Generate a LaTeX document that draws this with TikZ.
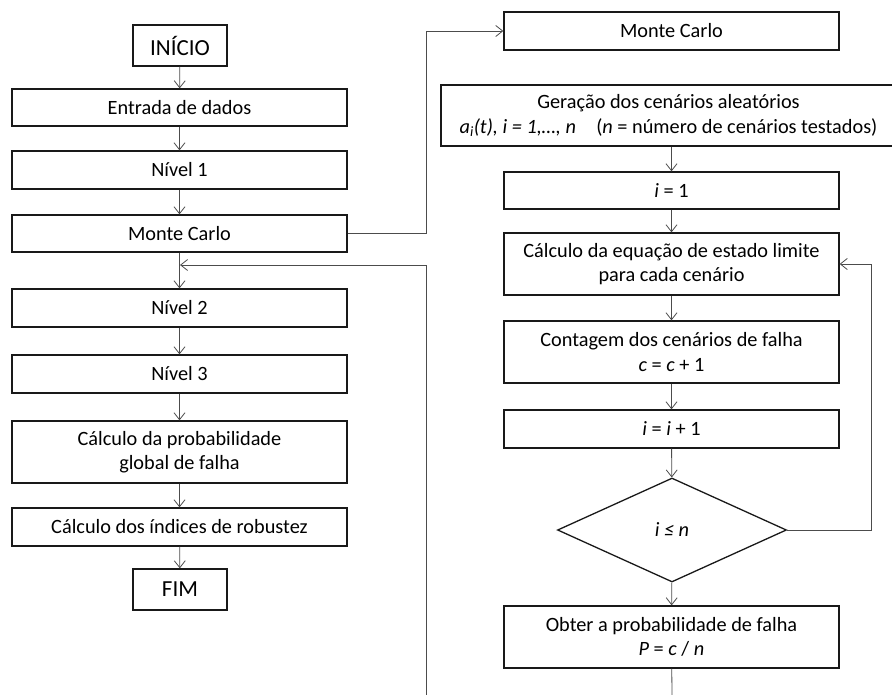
\documentclass[tikz,border=0pt]{standalone}
\usepackage{fontspec}
\setmainfont{Carlito}
\usetikzlibrary{arrows.meta,shapes.geometric}
\begin{document}
\begin{tikzpicture}[x=1pt,y=-1pt,
  box/.style={draw=black!90,line width=1.3pt,rectangle,inner sep=0pt,align=center,
    font=\fontsize{20.3}{24.5}\selectfont,minimum width=335pt},
  bigbox/.style={box,font=\fontsize{23}{27}\selectfont,minimum width=94pt,minimum height=41pt},
  dec/.style={draw=black!90,line width=1.3pt,diamond,inner sep=0pt,
    minimum width=229pt,minimum height=104pt,font=\fontsize{20.3}{24}\selectfont},
  conn/.style={draw=black!70,line width=0.8pt},
  arr/.style={conn,-{Straight Barb[length=7pt,width=11pt]}}]
\useasboundingbox (0,0) rectangle (892,695);
% left column
\node[bigbox] (ini) at (180,45.5) {INÍCIO};
\node[box,minimum height=37pt] (ent) at (179.5,107.5) {Entrada de dados};
\node[box,minimum height=38pt] (n1) at (179.5,170) {Nível 1};
\node[box,minimum height=37pt] (mc) at (179.5,233.5) {Monte Carlo};
\node[box,minimum height=38pt] (n2) at (179.5,308) {Nível 2};
\node[box,minimum height=38pt] (n3) at (179.5,374) {Nível 3};
\node[box,minimum height=62pt] (pg) at (179.5,452) {Cálculo da probabilidade\\global de falha};
\node[box,minimum height=38pt] (ir) at (179.5,527) {Cálculo dos índices de robustez};
\node[bigbox] (fim) at (180,589.5) {FIM};
% right column
\node[box,minimum height=38pt] (mc2) at (671.5,31) {Monte Carlo};
\node[box,minimum width=455pt,minimum height=61pt] (ger) at (668.5,115.5)
  {Geração dos cenários aleatórios\\{\itshape a\textsubscript{i}(t), i = 1,…, n}\quad ({\itshape n} = número de cenários testados)};
\node[box,minimum height=37pt] (i1) at (671.5,190.5) {{\itshape i} = 1};
\node[box,minimum height=62pt] (eq) at (671.5,264) {Cálculo da equação de estado limite\\para cada cenário};
\node[box,minimum height=62pt] (cont) at (671.5,352) {Contagem dos cenários de falha\\{\itshape c} = {\itshape c} + 1};
\node[box,minimum height=38pt] (inc) at (671.5,429) {{\itshape i} = {\itshape i} + 1};
\node[dec] (dia) at (672,530) {\itshape i ≤ n};
\node[box,minimum height=62pt] (obt) at (671.5,637) {Obter a probabilidade de falha\\{\itshape P} = {\itshape c} / {\itshape n}};
% coordinates
\coordinate (j) at (180,265);
\coordinate (bl) at (426,695);
\coordinate (br) at (672,695);
% left connectors
\draw[arr] (ini) -- (ent);
\draw[arr] (ent) -- (n1);
\draw[arr] (n1) -- (mc);
\draw[arr] (mc) -- (n2);
\draw[arr] (n2) -- (n3);
\draw[arr] (n3) -- (pg);
\draw[arr] (pg) -- (ir);
\draw[arr] (ir) -- (fim);
\draw[arr] (mc.east) -- (426,233.5) |- (mc2.west);
\draw[arr] (bl) |- (j);
% right connectors
\draw[arr] (ger.south -| i1.north) -- (i1);
\draw[arr] (i1) -- (eq);
\draw[arr] (eq) -- (cont);
\draw[arr] (cont) -- (inc);
\draw[arr] (inc) -- (dia);
\draw[arr] (dia) -- (obt);
\draw[arr] (dia.east) -- (871,530) |- (eq.east);
\draw[conn] (obt) -- (br);
\end{tikzpicture}
\end{document}
